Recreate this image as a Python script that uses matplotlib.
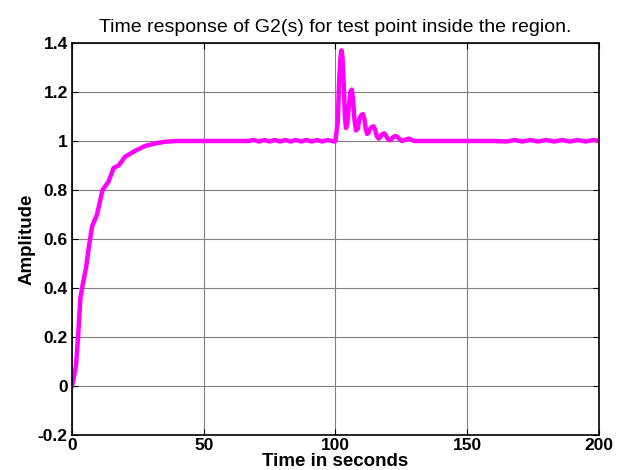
import matplotlib
matplotlib.use("Agg")
import matplotlib.pyplot as plt

plt.rcParams['font.family'] = ['Liberation Sans', 'DejaVu Sans']

# step response
t_rise = [0, 1.5, 2.3, 3.2, 4, 5.3, 6.3, 7.6, 9.5, 11.6, 13.9, 15.8, 17.7,
          20.2, 24, 27.8, 31.6, 35.4, 40, 50, 60, 67]
y_rise = [0, 0.08, 0.2, 0.36, 0.41, 0.48, 0.56, 0.65, 0.70, 0.80, 0.835, 0.89,
          0.90, 0.936, 0.96, 0.98, 0.99, 0.997, 1.0, 1.0, 1.0, 1.0]

t_ripple1 = [69, 71, 73, 75, 77, 79, 81, 83, 85, 87, 89, 91, 93, 95, 97, 99.5]
y_ripple1 = [1.004, 0.998, 1.004, 0.998, 1.004, 0.998, 1.004, 0.998, 1.004,
             0.998, 1.004, 0.998, 1.004, 0.998, 1.004, 0.998]

t_spike = [100, 100.9, 101.4, 101.9, 102.3, 102.7, 103.2, 103.6, 104, 104.5,
           105.1, 105.7, 106.2, 106.7, 107.2, 107.8, 108.5, 109.1, 109.8,
           110.4, 111.0, 111.5, 112, 112.6, 113.2, 113.9, 114.5, 115.1, 115.7,
           116.4, 117.0, 117.5, 118.1, 118.6, 119.2, 119.8, 120.5, 121.2,
           121.8, 122.4, 123, 123.6, 124.3, 125.3, 126.5, 127.8, 129, 130]
y_spike = [1.0, 1.08, 1.24, 1.34, 1.37, 1.34, 1.22, 1.10, 1.053, 1.07,
           1.14, 1.20, 1.21, 1.17, 1.09, 1.043, 1.05, 1.09, 1.105, 1.11,
           1.09, 1.05, 1.029, 1.035, 1.05, 1.058, 1.06, 1.045, 1.02,
           1.01, 1.015, 1.025, 1.03, 1.031, 1.022, 1.01, 1.003, 1.006,
           1.014, 1.019, 1.02, 1.016, 1.008, 1.0, 1.005, 1.01, 1.004, 1.0]

t_tail = [140, 150, 160, 165, 168, 171, 174, 177, 180, 183, 186, 189, 192,
          195, 198, 200]
y_tail = [1.0, 1.0, 1.0, 0.998, 1.004, 0.998, 1.004, 0.998, 1.004, 0.998,
          1.004, 0.998, 1.004, 0.998, 1.004, 1.0]

t = t_rise + t_ripple1 + t_spike + t_tail
y = y_rise + y_ripple1 + y_spike + y_tail

x_ticks = [0, 50, 100, 150, 200]
y_ticks = [-0.2, 0, 0.2, 0.4, 0.6, 0.8, 1, 1.2, 1.4]
y_tick_labels = ['-0.2', '0', '0.2', '0.4', '0.6', '0.8', '1', '1.2', '1.4']

fig = plt.figure(figsize=(6.18, 4.70), dpi=100)
ax = fig.add_axes([0.1165, 0.0745, 0.8525, 0.834])

ax.plot(t, y, color='#ff00ff', linewidth=3.2, solid_joinstyle='round')

ax.set_xlim(0, 200)
ax.set_ylim(-0.2, 1.4)
ax.set_xticks(x_ticks)
ax.set_xticklabels([str(v) for v in x_ticks], fontweight='bold', fontsize=12.5)
ax.set_yticks(y_ticks)
ax.set_yticklabels(y_tick_labels, fontweight='bold', fontsize=12.5)
ax.tick_params(direction='in', top=True, right=True, length=4, width=0.8,
               pad=2)
ax.tick_params(axis='y', pad=3)
ax.grid(True, color='#808080', linewidth=0.8)
for s in ax.spines.values():
    s.set_linewidth(1.2)

ax.set_xlabel('Time in seconds', fontweight='bold', fontsize=13.5, labelpad=0)
ax.set_ylabel('Amplitude', fontweight='bold', fontsize=13.5, labelpad=2)
ax.set_title('Time response of G2(s) for test point inside the region.',
             fontsize=14, pad=8)

fig.savefig('out.png', dpi=100)
